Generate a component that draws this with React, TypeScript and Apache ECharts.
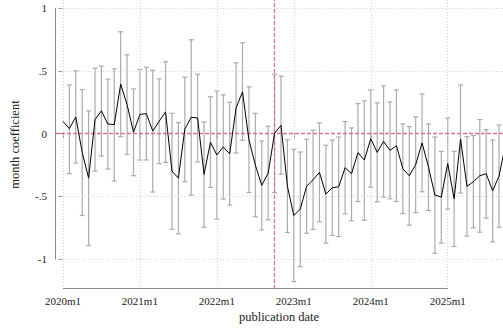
import React, { useEffect, useRef } from "react";
import * as echarts from "echarts";

const tickPositions = [0, 12, 24, 36, 48, 60];
const tickLabels = ["2020m1", "2021m1", "2022m1", "2023m1", "2024m1", "2025m1"];
const yTicks = [-1, -0.5, 0, 0.5, 1];
const treatMonth = 33;

const coef = [
  0.098, 0.04, 0.133, -0.149, -0.354, 0.112, 0.181, 0.077, 0.072, 0.394, 0.231, 0.011,
  0.152, 0.16, 0.021, 0.098, 0.173, -0.298, -0.354, 0.035, 0.13, 0.125, -0.324, -0.069,
  -0.17, -0.106, -0.16, 0.205, 0.332, -0.048, -0.25, -0.412, -0.314, 0.003, 0.066, -0.418,
  -0.652, -0.601, -0.418, -0.367, -0.309, -0.481, -0.431, -0.423, -0.271, -0.319, -0.152, -0.21,
  -0.04, -0.149, -0.061, -0.133, -0.096, -0.279, -0.335, -0.247, -0.074, -0.266, -0.489, -0.505,
  -0.237, -0.519, -0.043, -0.42, -0.383, -0.335, -0.319, -0.455, -0.338, -0.09,
];
const ciHigh = [
  null, 0.388, 0.5, 0.351, 0.181, 0.521, 0.537, 0.434, 0.516, 0.811, 0.628, 0.356,
  0.511, 0.529, 0.505, 0.436, 0.572, 0.162, 0.088, 0.449, 0.747, 0.473, 0.093, 0.293,
  0.34, 0.309, 0.25, 0.564, 0.723, 0.372, 0.162, -0.059, 0.059, 0.473, 0.457, -0.048,
  -0.125, -0.146, -0.045, 0.027, 0.085, -0.093, -0.051, -0.027, 0.096, 0.045, 0.239, 0.261,
  0.348, 0.245, 0.38, 0.253, 0.348, 0.077, 0.056, 0.133, 0.316, 0.077, -0.027, -0.141,
  0.125, -0.141, 0.388, -0.024, -0.016, 0.112, 0.032, -0.051, 0.069, 0.31,
];
const ciLow = [
  null, -0.319, -0.234, -0.652, -0.891, -0.298, -0.178, -0.282, -0.378, -0.024, -0.165, -0.335,
  -0.21, -0.21, -0.465, -0.239, -0.229, -0.761, -0.798, -0.383, -0.489, -0.226, -0.745, -0.428,
  -0.681, -0.521, -0.569, -0.154, -0.053, -0.468, -0.662, -0.766, -0.686, -0.471, -0.324, -0.787,
  -1.178, -1.059, -0.793, -0.763, -0.702, -0.872, -0.811, -0.819, -0.638, -0.694, -0.54, -0.689,
  -0.426, -0.543, -0.505, -0.519, -0.54, -0.636, -0.729, -0.628, -0.463, -0.612, -0.952, -0.872,
  -0.601, -0.899, -0.473, -0.816, -0.75, -0.785, -0.673, -0.862, -0.745, -0.49,
];

const X_MIN = -1.24;
const X_MAX = 68.62;
const Y_MIN = -1.237;
const Y_MAX = 1.064;

const FONT = "'Liberation Serif', 'Times New Roman', serif";

export default function App() {
  const ref = useRef<HTMLDivElement>(null);
  useEffect(() => {
    if (!ref.current) return;
    const chart = echarts.init(ref.current, null, { renderer: "svg" });

    const gridLines: any[] = [];
    yTicks
      .filter((v) => v !== 0)
      .forEach((v) => gridLines.push([{ coord: [X_MIN, v] }, { coord: [X_MAX, v] }]));
    tickPositions.forEach((v) => gridLines.push([{ coord: [v, Y_MIN] }, { coord: [v, Y_MAX] }]));

    const axisLines: any[] = [
      [{ coord: [X_MIN + 0.05, yTicks[0]] }, { coord: [X_MIN + 0.05, yTicks[yTicks.length - 1]] }],
      [{ coord: [tickPositions[0], Y_MIN + 0.004] }, { coord: [tickPositions[tickPositions.length - 1], Y_MIN + 0.004] }],
    ];

    const redLines: any[] = [
      [{ coord: [X_MIN, 0.002] }, { coord: [X_MAX, 0.002] }],
      [{ coord: [treatMonth, Y_MIN] }, { coord: [treatMonth, Y_MAX] }],
    ];

    const ciData: any[] = [];
    coef.forEach((_, i) => {
      if (ciLow[i] !== null && ciHigh[i] !== null) ciData.push([i, ciLow[i], ciHigh[i]]);
    });

    const ml = (data: any[], lineStyle: any) => ({
      silent: true,
      symbol: ["none", "none"],
      label: { show: false },
      emphasis: { disabled: true },
      lineStyle,
      data,
      animation: false,
    });

    chart.setOption({
      animation: false,
      backgroundColor: "#ffffff",
      grid: { left: 51, right: 0, top: 0, bottom: 40, containLabel: false },
      xAxis: {
        type: "value",
        min: X_MIN,
        max: X_MAX,
        axisLine: { show: false },
        splitLine: { show: false },
        axisTick: { show: true, customValues: tickPositions, length: 4, lineStyle: { color: "#8a8a8a" } },
        axisLabel: {
          customValues: tickPositions,
          formatter: (v: number) => tickLabels[tickPositions.indexOf(Math.round(v))] ?? "",
          fontFamily: FONT,
          fontSize: 11,
          color: "#222",
          margin: 6,
        },
        name: "publication date",
        nameLocation: "middle",
        nameGap: 20,
        nameTextStyle: { fontFamily: FONT, fontSize: 12.5, color: "#222" },
      },
      yAxis: {
        type: "value",
        min: Y_MIN,
        max: Y_MAX,
        axisLine: { show: false },
        splitLine: { show: false },
        axisTick: { show: true, customValues: yTicks, length: 4, lineStyle: { color: "#8a8a8a" } },
        axisLabel: {
          customValues: yTicks,
          formatter: (v: number) => {
            const r = Math.round(v * 10) / 10;
            return String(r).replace("0.", ".");
          },
          fontFamily: FONT,
          fontSize: 11,
          color: "#222",
          margin: 8,
        },
        name: "month coefficient",
        nameLocation: "middle",
        nameGap: 34,
        nameTextStyle: { fontFamily: FONT, fontSize: 12.5, color: "#222" },
      },
      series: [
        {
          type: "line",
          data: [],
          z: 1,
          silent: true,
          markLine: ml(gridLines, { color: "#d4d4d4", width: 1, type: [1, 2] }),
        },
        {
          type: "line",
          data: [],
          z: 2,
          silent: true,
          markLine: ml(axisLines, { color: "#8a8a8a", width: 1, type: "solid" }),
        },
        {
          type: "line",
          data: [],
          z: 3,
          silent: true,
          markLine: ml(redLines, { color: "#dc6f96", width: 1.3, type: [4, 2] }),
        },
        {
          type: "custom",
          z: 4,
          clip: true,
          data: ciData,
          encode: { x: 0, y: [1, 2] },
          renderItem: (params: any, api: any) => {
            const x = api.value(0);
            const lo = api.coord([x, api.value(1)]);
            const hi = api.coord([x, api.value(2)]);
            const cap = 2.5;
            const style = { stroke: "#ababab", lineWidth: 1.2 };
            return {
              type: "group",
              children: [
                { type: "line", shape: { x1: lo[0], y1: lo[1], x2: hi[0], y2: hi[1] }, style },
                { type: "line", shape: { x1: lo[0] - cap, y1: lo[1], x2: lo[0] + cap, y2: lo[1] }, style },
                { type: "line", shape: { x1: hi[0] - cap, y1: hi[1], x2: hi[0] + cap, y2: hi[1] }, style },
              ],
            };
          },
        },
        {
          type: "line",
          z: 5,
          data: coef.map((v, i) => [i, v]),
          showSymbol: false,
          symbol: "none",
          clip: true,
          lineStyle: { color: "#000", width: 1 },
        },
      ],
    });
    return () => chart.dispose();
  }, []);
  return (
    <div
      ref={ref}
      style={{ position: "fixed", left: 0, top: 0, width: 503, height: 329, background: "#fff" }}
    />
  );
}
